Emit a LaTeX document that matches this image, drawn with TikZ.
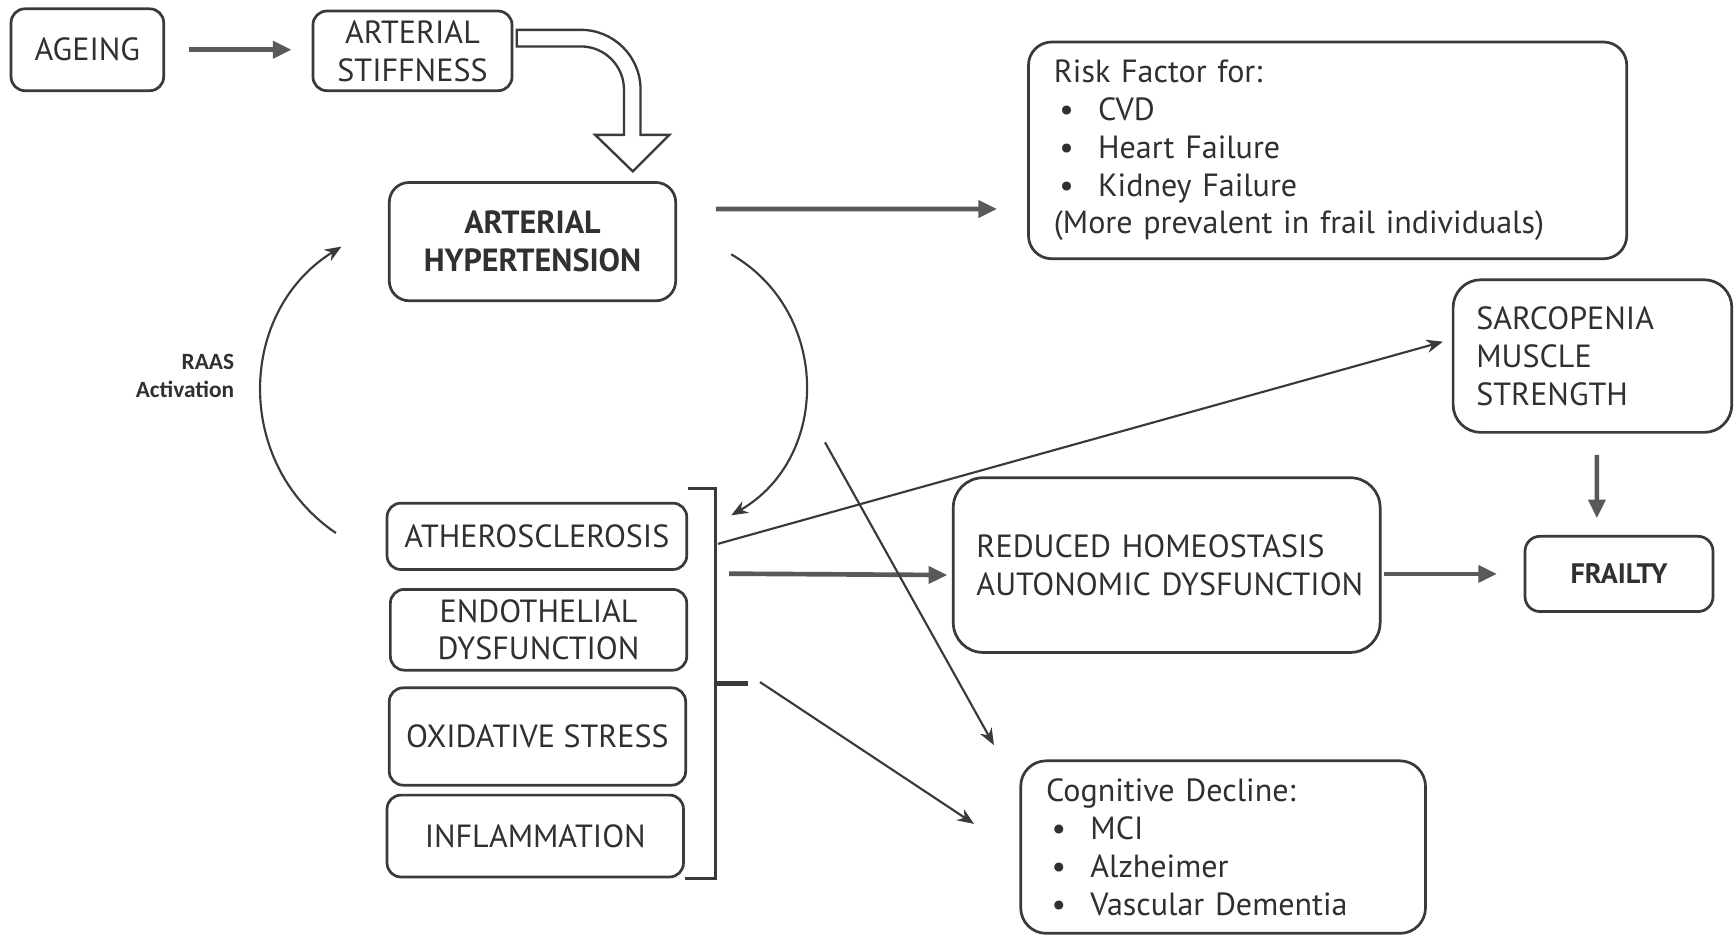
\documentclass[tikz,border=0pt]{standalone}
\usepackage{fontspec}
\setmainfont{PT Sans}
\newfontfamily\raasfont{Carlito}
\usepackage{xcolor}
\usetikzlibrary{calc,arrows.meta}

\definecolor{boxgray}{HTML}{3A3A3A}
\definecolor{arrgray}{HTML}{595959}
\definecolor{txtgray}{HTML}{303030}

\newcommand{\boxfont}{\fontsize{16.5}{19.5}\selectfont}
\newcommand{\bul}{\makebox[0.8cm][l]{\hspace{0.1cm}\textbullet}}

\tikzset{
  box/.style={draw=boxgray, line width=1.4pt, rounded corners=0.25cm, align=center,
    text=txtgray, inner sep=0pt, font=\boxfont},
  arr/.style={draw=arrgray, line width=2.4pt, -{Triangle[length=0.34cm,width=0.3cm]}},
  thinarr/.style={draw=boxgray, line width=1.1pt, -{Stealth[length=0.3cm,width=0.24cm]}},
  bracket/.style={draw=boxgray, line width=1.4pt}
}

\begin{document}
\begin{tikzpicture}
  \useasboundingbox (0,0) rectangle (31.36,16.92);

  % Top row
  \node[box, minimum width=2.76cm, minimum height=1.48cm] (ageing) at (1.58,16.02) {AGEING};
  \node[box, minimum width=3.6cm, minimum height=1.44cm] (stiff) at (7.46,16.0) {ARTERIAL\\STIFFNESS};
  \node[box, rounded corners=0.36cm, minimum width=5.18cm, minimum height=2.14cm,
    font=\boxfont\bfseries] (ah) at (9.63,12.55) {ARTERIAL\\HYPERTENSION};

  \node[box, rounded corners=0.42cm, align=left, text width=9.9cm, inner xsep=0.46cm,
    minimum height=3.92cm] (risk) at (24.01,14.2)
    {Risk Factor for:\\ \bul CVD\\ \bul Heart Failure\\ \bul Kidney Failure\\
     (More prevalent in frail individuals)};

  % Stack of mechanisms
  \node[box, minimum width=5.42cm, minimum height=1.2cm] (athero) at (9.71,7.22) {ATHEROSCLEROSIS};
  \node[box, minimum width=5.36cm, minimum height=1.46cm] (endo) at (9.74,5.53) {ENDOTHELIAL\\DYSFUNCTION};
  \node[box, minimum width=5.36cm, minimum height=1.76cm] (oxi) at (9.72,3.6) {OXIDATIVE STRESS};
  \node[box, minimum width=5.36cm, minimum height=1.48cm] (infl) at (9.68,1.8) {INFLAMMATION};

  \node[anchor=east, align=right, text=txtgray, inner sep=0pt,
    font=\raasfont\bfseries\fontsize{12}{14.7}\selectfont] (raas) at (4.24,10.12) {RAAS\\Activation};

  % Outcomes
  \node[box, rounded corners=0.54cm, align=left, text width=6.88cm, inner xsep=0.42cm,
    minimum height=3.16cm] (homeo) at (21.1,6.7)
    {\mbox{REDUCED HOMEOSTASIS}\\\mbox{AUTONOMIC DYSFUNCTION}};
  \node[box, rounded corners=0.27cm, minimum width=3.4cm, minimum height=1.36cm,
    font=\fontsize{14.5}{17}\selectfont\bfseries] (frailty) at (29.28,6.54) {FRAILTY};
  \node[box, rounded corners=0.5cm, align=left, text width=4.2cm, inner xsep=0.42cm,
    minimum height=2.76cm] (sarc) at (28.8,10.48) {SARCOPENIA\\MUSCLE\\STRENGTH};
  \node[box, rounded corners=0.46cm, align=left, text width=6.4cm, inner xsep=0.46cm,
    minimum height=3.12cm] (cog) at (22.12,1.6)
    {Cognitive Decline:\\ \bul MCI\\ \bul Alzheimer\\ \bul Vascular Dementia};

  % Hollow bent arrow from stiffness down to hypertension
  \draw[draw=boxgray, line width=1.2pt, fill=white, line join=miter]
    ($(stiff.east)+(0.06,0.38)$) -- ++(1.16,0) arc[start angle=90, end angle=0, radius=1.08]
    -- ++(0,-0.82) -- ++(0.52,0) -- ++(-0.66,-0.66) -- ++(-0.68,0.66) -- ++(0.52,0)
    -- ++(0,0.82) arc[start angle=0, end angle=90, radius=0.78] -- ++(-1.16,0) -- cycle;

  % Connectors
  \draw[arr, shorten <=0.44cm, shorten >=0.36cm] (ageing.east) -- (ageing.east -| stiff.west);
  \draw[arr] ($(ah.east)+(0.7,0.59)$) -- ($(risk.west)+(-0.54,-1.06)$);
  \draw[thinarr] ($(ah.east)+(0.98,-0.23)$) to[bend left=60, looseness=1.13] ($(athero.east)+(0.78,0.38)$);
  \draw[thinarr] ($(athero.west)+(-0.9,0.06)$) to[bend left=57, looseness=1.1] ($(ah.west)+(-0.84,-0.09)$);

  % Bracket round the stack
  \draw[bracket] ($(athero.north east)+(0,0.24)$) -- ++(0.5,0) coordinate (brtop) |- (infl.south east);
  \coordinate (brmid) at ($(brtop)+(0,-3.52)$);
  \draw[draw=boxgray, line width=2.4pt] (brmid) -- ++(0.58,0);

  \draw[thinarr] ($(brtop)+(0.04,-1.0)$) -- ($(sarc.west)+(-0.16,0.26)$);
  \draw[arr] ($(brtop)+(0.24,-1.54)$) -- ($(homeo.west)+(-0.08,-0.18)$);
  \coordinate (cross) at (14.92,8.92);
  \draw[thinarr] (cross) -- ($(cog.north west)+(-0.46,0.26)$);
  \draw[thinarr] ($(brmid)+(0.8,0.02)$) -- ($(cog.west)+(-0.82,0.42)$);

  \draw[arr, shorten <=0.04cm, shorten >=0.48cm] (homeo.east |- frailty.west) -- (frailty.west);
  \draw[arr] ($(sarc.south)+(0.08,-0.38)$) -- ($(frailty.north)+(-0.4,0.3)$);
\end{tikzpicture}
\end{document}
